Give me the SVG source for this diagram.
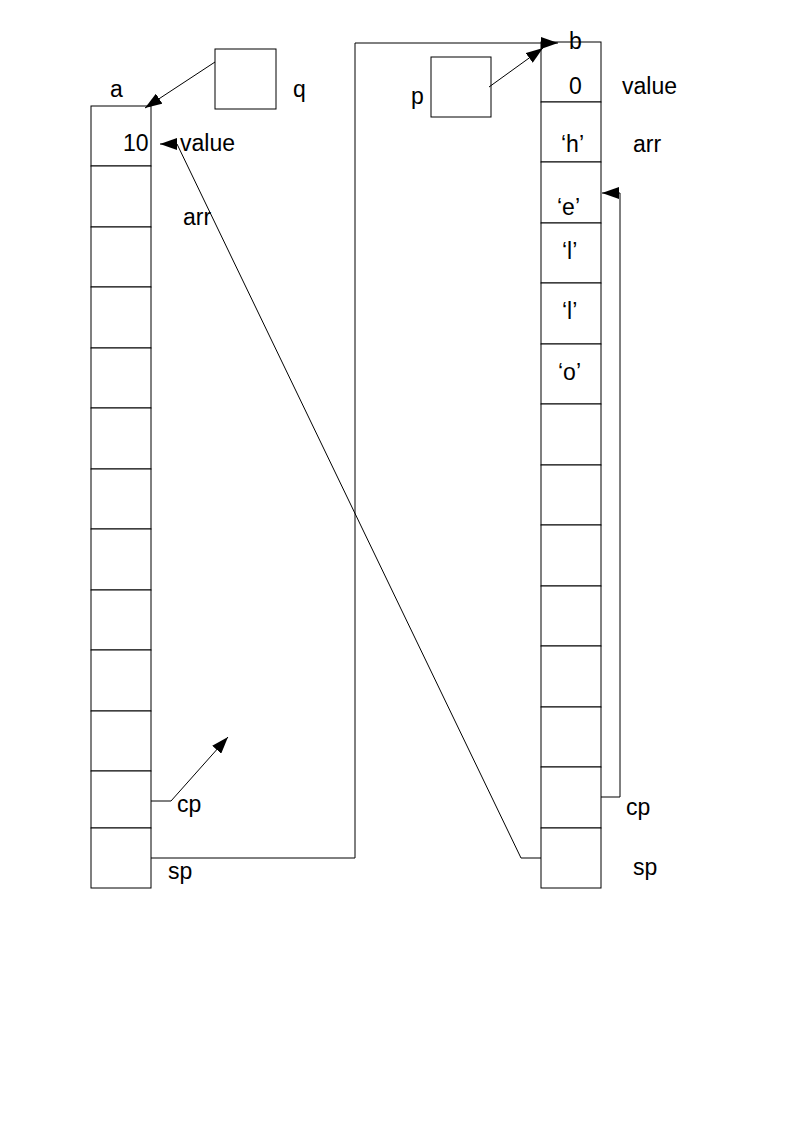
<svg xmlns="http://www.w3.org/2000/svg" width="794" height="1123" viewBox="0 0 794 1123">
<style>
.c{fill:#fff;stroke:#000;stroke-width:1}
.t{font-family:"Liberation Sans",Arial,sans-serif;font-size:23px;fill:#000}
.l{fill:none;stroke:#000;stroke-width:1}
</style>
<defs>
<marker id="ah" viewBox="0 0 17 12" refX="17" refY="6" markerWidth="17" markerHeight="12" markerUnits="userSpaceOnUse" orient="auto">
<path d="M0,0 L17,6 L0,12 Z" fill="#000"/>
</marker>
</defs>
<g id="a">
<rect class="c" x="91" y="106" width="60" height="60"/>
<rect class="c" x="91" y="166" width="60" height="61"/>
<rect class="c" x="91" y="227" width="60" height="60"/>
<rect class="c" x="91" y="287" width="60" height="61"/>
<rect class="c" x="91" y="348" width="60" height="60"/>
<rect class="c" x="91" y="408" width="60" height="61"/>
<rect class="c" x="91" y="469" width="60" height="60"/>
<rect class="c" x="91" y="529" width="60" height="61"/>
<rect class="c" x="91" y="590" width="60" height="60"/>
<rect class="c" x="91" y="650" width="60" height="61"/>
<rect class="c" x="91" y="711" width="60" height="60"/>
<rect class="c" x="91" y="771" width="60" height="57"/>
<rect class="c" x="91" y="828" width="60" height="60"/>
<text class="t" x="110" y="97">a</text>
<text class="t" x="123" y="151">10</text>
<text class="t" x="180" y="151">value</text>
<text class="t" x="183" y="225">arr</text>
<text class="t" x="177" y="812">cp</text>
<text class="t" x="168" y="879">sp</text>
</g>
<g id="q">
<rect class="c" x="215" y="49" width="61" height="60"/>
<text class="t" x="293" y="97">q</text>
</g>
<g id="p">
<rect class="c" x="431" y="57" width="60" height="60"/>
<text class="t" x="411" y="104">p</text>
</g>
<g id="b">
<rect class="c" x="541" y="42" width="60" height="60"/>
<rect class="c" x="541" y="102" width="60" height="60"/>
<rect class="c" x="541" y="162" width="60" height="61"/>
<rect class="c" x="541" y="223" width="60" height="60"/>
<rect class="c" x="541" y="283" width="60" height="61"/>
<rect class="c" x="541" y="344" width="60" height="60"/>
<rect class="c" x="541" y="404" width="60" height="61"/>
<rect class="c" x="541" y="465" width="60" height="60"/>
<rect class="c" x="541" y="525" width="60" height="61"/>
<rect class="c" x="541" y="586" width="60" height="60"/>
<rect class="c" x="541" y="646" width="60" height="61"/>
<rect class="c" x="541" y="707" width="60" height="60"/>
<rect class="c" x="541" y="767" width="60" height="61"/>
<rect class="c" x="541" y="828" width="60" height="60"/>
<text class="t" x="569" y="49">b</text>
<text class="t" x="569" y="94">0</text>
<text class="t" x="622" y="94">value</text>
<text class="t" x="561" y="152">‘h’</text>
<text class="t" x="633" y="152">arr</text>
<text class="t" x="557" y="215">‘e’</text>
<text class="t" x="562" y="259">‘l’</text>
<text class="t" x="562" y="319">‘l’</text>
<text class="t" x="558" y="380">‘o’</text>
<text class="t" x="626" y="815">cp</text>
<text class="t" x="633" y="875">sp</text>
</g>
<g id="connectors">
<path class="l" d="M215,62 L145,108" marker-end="url(#ah)"/>
<path class="l" d="M489,87 L543,48" marker-end="url(#ah)"/>
<path class="l" d="M151,858 L355,858 L355,43 L558,43" marker-end="url(#ah)"/>
<path class="l" d="M541,858 L521,858 L177,144 L160,144" marker-end="url(#ah)"/>
<path class="l" d="M601,797 L620,797 L620,193 L602,193" marker-end="url(#ah)"/>
<path class="l" d="M151,801 L171,801 L228,737" marker-end="url(#ah)"/>
</g>
</svg>
